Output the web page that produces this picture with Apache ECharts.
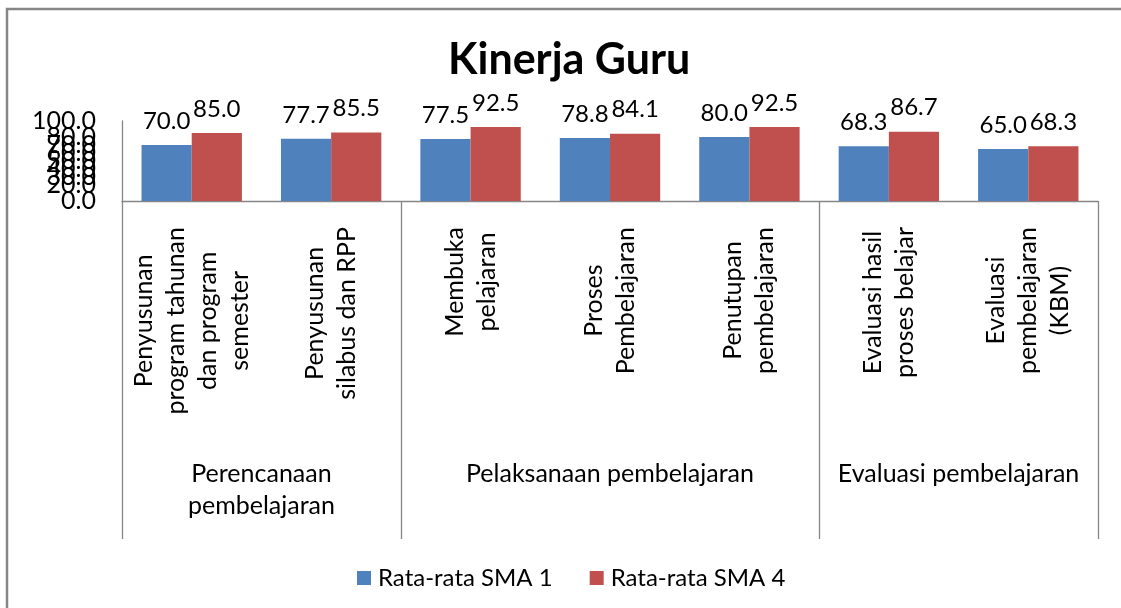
<!DOCTYPE html>
<html>
<head>
<meta charset="utf-8">
<script src="https://cdn.jsdelivr.net/npm/echarts@6/dist/echarts.min.js"></script>
<style>
html,body{margin:0;padding:0;background:#fff;}
#chart{width:1121px;height:608px;}
</style>
</head>
<body>
<div id="chart"></div>
<script>
const title = 'Kinerja Guru';
const categories = [
  'Penyusunan\nprogram tahunan\ndan program\nsemester',
  'Penyusunan\nsilabus dan RPP',
  'Membuka\npelajaran',
  'Proses\nPembelajaran',
  'Penutupan\npembelajaran',
  'Evaluasi hasil\nproses belajar',
  'Evaluasi\npembelajaran\n(KBM)'
];
const groupNames = ['Perencanaan\npembelajaran', 'Pelaksanaan pembelajaran', 'Evaluasi pembelajaran'];
const groupSizes = [2, 3, 2];
const seriesNames = ['Rata-rata SMA 1', 'Rata-rata SMA 4'];
const sma1 = [70.0, 77.7, 77.5, 78.8, 80.0, 68.3, 65.0];
const sma4 = [85.0, 85.5, 92.5, 84.1, 92.5, 86.7, 68.3];
const yMin = 0, yMax = 100, yStep = 10;

const FONT = 'Lato';
const FS = 24;
const FS_CAT = 25;

// group boundaries and centers (in category units)
const groupStarts = [];
const groupCenters = {};
let acc = 0;
groupSizes.forEach((s, i) => {
  groupStarts.push(acc);
  groupCenters[(acc + s / 2).toFixed(2)] = groupNames[i];
  acc += s;
});

const labelOpt = {show: true, position: 'top', distance: 12, formatter: (p) => p.value.toFixed(1), fontFamily: FONT, fontSize: FS, color: '#000'};

const chart = echarts.init(document.getElementById('chart'));
chart.setOption({
  backgroundColor: '#fff',
  animation: false,
  color: ['#4F81BD', '#C0504D'],
  title: {
    text: title,
    left: 443,
    top: 34,
    textStyle: {fontFamily: FONT, fontWeight: 'bold', fontSize: 43, color: '#000'}
  },
  graphic: [{
    type: 'rect',
    shape: {x: 7, y: 9, width: 1300, height: 800},
    style: {fill: 'none', stroke: '#868686', lineWidth: 2.5},
    silent: true
  }],
  legend: {
    bottom: 13,
    left: 352,
    itemWidth: 14,
    itemHeight: 14,
    itemGap: 37,
    icon: 'rect',
    textStyle: {fontFamily: FONT, fontSize: FS, color: '#000', padding: [0, 0, 0, 2]},
    data: seriesNames
  },
  grid: {left: 122, right: 23, top: 121, bottom: 407, containLabel: false},
  xAxis: [{
    type: 'category',
    data: categories,
    axisLine: {lineStyle: {color: '#868686', width: 1.3}},
    axisTick: {
      show: true,
      length: 338,
      interval: (idx) => groupStarts.indexOf(idx) >= 0,
      lineStyle: {color: '#868686', width: 1.3}
    },
    axisLabel: {
      rotate: 90,
      interval: 0,
      margin: 26,
      formatter: (v) => v.split('\n').map(l => '{c|' + l + '}').join('\n'),
      rich: {c: {align: 'center', fontFamily: FONT, fontSize: FS_CAT, lineHeight: 32, color: '#000'}}
    }
  }, {
    type: 'value',
    position: 'bottom',
    min: 0,
    max: categories.length,
    interval: 0.5,
    axisLine: {show: false},
    axisTick: {show: false},
    splitLine: {show: false},
    axisLabel: {
      margin: 257,
      formatter: (v) => groupCenters[Number(v).toFixed(2)] || '',
      fontFamily: FONT, fontSize: FS_CAT, lineHeight: 32, color: '#000', align: 'center'
    }
  }],
  yAxis: {
    type: 'value',
    min: yMin,
    max: yMax,
    interval: yStep,
    axisLine: {show: true, lineStyle: {color: '#868686', width: 1.3}},
    axisTick: {show: false},
    splitLine: {show: false},
    axisLabel: {
      margin: 26,
      showMinLabel: true,
      showMaxLabel: true,
      hideOverlap: false,
      formatter: (v) => v.toFixed(1),
      fontFamily: FONT, fontSize: FS_CAT, color: '#000'
    }
  },
  series: [
    {name: seriesNames[0], type: 'bar', data: sma1, barGap: '0%', barCategoryGap: '28%', label: labelOpt},
    {name: seriesNames[1], type: 'bar', data: sma4, barGap: '0%', barCategoryGap: '28%', label: labelOpt}
  ]
});
</script>
</body>
</html>
